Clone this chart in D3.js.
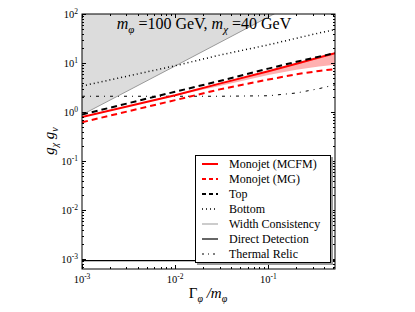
<!DOCTYPE html>
<html>
  <head>
    <meta charset="utf-8">
    <script src="https://cdn.jsdelivr.net/npm/d3@7"></script>
    <style>
      body { margin: 0; background: #fff; }
      text { font-family: "Liberation Serif", "DejaVu Serif", serif; fill: #000; }
    </style>
  </head>
  <body>
    <svg id="chart" width="415" height="312"></svg>

    <script>
      // data (x = width / mass)
      xs = [0.001, 0.01, 0.03, 0.1, 0.2, 0.35, 0.52];
      mcfm = [0.79, 2.2, 3.8, 6.8, 9.7, 13.0, 15.8];
      mcfmLow = [0.79, 2.15, 3.4, 5.7, 7.3, 8.5, 9.2];
      mg = [0.62, 1.75, 2.9, 4.6, 5.9, 6.9, 7.5];
      top_ = [0.89, 2.6, 4.3, 7.7, 10.6, 13.5, 15.9];
      bottom = [3.4, 8.8, 14.5, 23.5, 32, 41, 48];
      relic = [2.1, 2.1, 2.1, 2.15, 2.45, 3.0, 3.6];
      widthX = [0.001, 0.01, 0.1, 0.2];
      widthY = [0.88, 8.7, 87, 174];
      directDetection = 0.00093;
      xTicks = [-3, -2, -1];
      yTicks = [-3, -2, -1, 0, 1, 2];
      legendItems = ["Monojet (MCFM)", "Monojet (MG)", "Top", "Bottom", "Width Consistency", "Direct Detection", "Thermal Relic"];

      chart = d3.select("#chart");
      margin = { left: 82, right: 335, top: 14, bottom: 269 };

      x = d3.scaleLog().domain([0.001, 0.52]).range([margin.left, margin.right]);
      y = d3.scaleLog().domain([0.00063, 100]).range([margin.bottom, margin.top]);

      chart.append("clipPath").attr("id", "clip")
        .append("rect")
          .attr("x", margin.left).attr("y", margin.top)
          .attr("width", margin.right - margin.left)
          .attr("height", margin.bottom - margin.top);

      plot = chart.append("g").attr("clip-path", "url(#clip)");

      // width consistency shading
      widthData = widthX.map(function(d, i) { return [d, widthY[i]]; });
      plot.append("path")
        .datum(widthData)
        .attr("fill", "#dcdcdc")
        .attr("d", d3.area()
          .x(function(d) { return x(d[0]); })
          .y0(y(100))
          .y1(function(d) { return y(d[1]); }));

      // monojet band
      band = xs.map(function(d, i) { return [d, mcfm[i], mcfmLow[i]]; });
      plot.append("path")
        .datum(band)
        .attr("fill", "#ffb0b0")
        .attr("d", d3.area()
          .x(function(d) { return x(d[0]); })
          .y0(function(d) { return y(d[2]); })
          .y1(function(d) { return y(d[1]); }));

      line = d3.line()
        .x(function(d) { return x(d[0]); })
        .y(function(d) { return y(d[1]); });

      function series(vals) {
        return xs.map(function(d, i) { return [d, vals[i]]; });
      }

      styles = [
        { data: series(mcfm), color: "#ff0000", width: 2, dash: null },
        { data: series(mg), color: "#ff0000", width: 2, dash: "6,4" },
        { data: series(top_), color: "#000", width: 2, dash: "6,4" },
        { data: series(bottom), color: "#000", width: 1.5, dash: "1,3" },
        { data: widthData, color: "#999", width: 1, dash: null },
        { data: [[0.001, directDetection], [0.52, directDetection]], color: "#000", width: 1.2, dash: null },
        { data: series(relic), color: "#000", width: 1, dash: "3,5,1,5" }
      ];

      [6, 5, 4, 3, 1, 0, 2].forEach(function(i) {
        s = styles[i];
        plot.append("path")
          .datum(s.data)
          .attr("fill", "none")
          .attr("stroke", s.color)
          .attr("stroke-width", s.width)
          .attr("stroke-dasharray", s.dash)
          .attr("d", line);
      });

      // frame and ticks
      axes = chart.append("g");
      axes.append("rect")
        .attr("x", margin.left).attr("y", margin.top)
        .attr("width", margin.right - margin.left)
        .attr("height", margin.bottom - margin.top)
        .attr("fill", "none").attr("stroke", "#000").attr("stroke-width", 1);

      function logTicks(lo, hi) {
        var out = [];
        for (var e = Math.floor(Math.log10(lo)); e <= Math.ceil(Math.log10(hi)); e++) {
          for (var m = 1; m < 10; m++) {
            var v = m * Math.pow(10, e);
            if (v >= lo * 0.999 && v <= hi * 1.001) out.push({ v: v, major: m === 1 });
          }
        }
        return out;
      }

      logTicks(0.001, 0.52).forEach(function(t) {
        var len = t.major ? 4 : 2;
        var px = Math.round(x(t.v)) + 0.5;
        axes.append("line").attr("x1", px).attr("x2", px)
          .attr("y1", margin.bottom).attr("y2", margin.bottom - len).attr("stroke", "#000");
        axes.append("line").attr("x1", px).attr("x2", px)
          .attr("y1", margin.top).attr("y2", margin.top + len).attr("stroke", "#000");
      });
      logTicks(0.00063, 100).forEach(function(t) {
        var len = t.major ? 4 : 2;
        var py = Math.round(y(t.v)) + 0.5;
        axes.append("line").attr("y1", py).attr("y2", py)
          .attr("x1", margin.left).attr("x2", margin.left + len).attr("stroke", "#000");
        axes.append("line").attr("y1", py).attr("y2", py)
          .attr("x1", margin.right).attr("x2", margin.right - len).attr("stroke", "#000");
      });

      // tick labels
      xTicks.forEach(function(e) {
        var t = axes.append("text")
          .attr("x", x(Math.pow(10, e)))
          .attr("y", 283)
          .attr("text-anchor", "middle")
          .style("font-size", "10.5px");
        t.append("tspan").text("10");
        t.append("tspan").attr("dy", -4).style("font-size", "7.5px").text(e);
      });
      yTicks.forEach(function(e) {
        var t = axes.append("text")
          .attr("x", 78)
          .attr("y", y(Math.pow(10, e)) + 4)
          .attr("text-anchor", "end")
          .style("font-size", "10.5px");
        t.append("tspan").text("10");
        t.append("tspan").attr("dy", -4).style("font-size", "7.5px").text(e);
      });

      // title
      title = chart.append("text")
        .attr("x", 204).attr("y", 29)
        .attr("text-anchor", "middle")
        .style("font-size", "16px");
      title.append("tspan").style("font-style", "italic").text("m");
      title.append("tspan").attr("dy", 4).style("font-size", "11px").style("font-style", "italic").text("φ");
      title.append("tspan").attr("dy", -4).text(" =100 GeV, ");
      title.append("tspan").style("font-style", "italic").text("m");
      title.append("tspan").attr("dy", 4).style("font-size", "11px").style("font-style", "italic").text("χ");
      title.append("tspan").attr("dy", -4).text(" =40 GeV");

      // axis labels
      xl = chart.append("text")
        .attr("x", 208).attr("y", 298)
        .attr("text-anchor", "middle")
        .style("font-size", "15px");
      xl.append("tspan").text("Γ");
      xl.append("tspan").attr("dy", 4).style("font-size", "10px").style("font-style", "italic").text("φ");
      xl.append("tspan").attr("dy", -4).style("font-style", "italic").text(" /m");
      xl.append("tspan").attr("dy", 4).style("font-size", "10px").style("font-style", "italic").text("φ");

      yl = chart.append("text")
        .attr("transform", "translate(54, 141) rotate(-90)")
        .attr("text-anchor", "middle")
        .style("font-size", "15px");
      yl.append("tspan").style("font-style", "italic").text("g");
      yl.append("tspan").attr("dy", 4).style("font-size", "10px").style("font-style", "italic").text("χ");
      yl.append("tspan").attr("dy", -4).style("font-style", "italic").text(" g");
      yl.append("tspan").attr("dy", 4).style("font-size", "10px").style("font-style", "italic").text("v");

      // legend
      legend = chart.append("g");
      legend.append("rect")
        .attr("x", 197).attr("y", 157).attr("width", 136).attr("height", 108)
        .attr("fill", "#999");
      legend.append("rect")
        .attr("x", 195.5).attr("y", 155.5).attr("width", 135).attr("height", 107)
        .attr("fill", "#fff").attr("stroke", "#000").attr("stroke-width", 1);

      legendItems.forEach(function(name, i) {
        var s = styles[i];
        var ly = 164 + i * 15;
        legend.append("line")
          .attr("x1", 202).attr("x2", 218)
          .attr("y1", ly).attr("y2", ly)
          .attr("stroke", s.color)
          .attr("stroke-width", s.width)
          .attr("stroke-dasharray", i === 1 || i === 2 ? "4,3" : (i === 6 ? "2,4,1,4" : s.dash));
        legend.append("text")
          .attr("x", 229).attr("y", ly + 4)
          .style("font-size", "12px")
          .text(name);
      });
    </script>
  </body>
</html>
